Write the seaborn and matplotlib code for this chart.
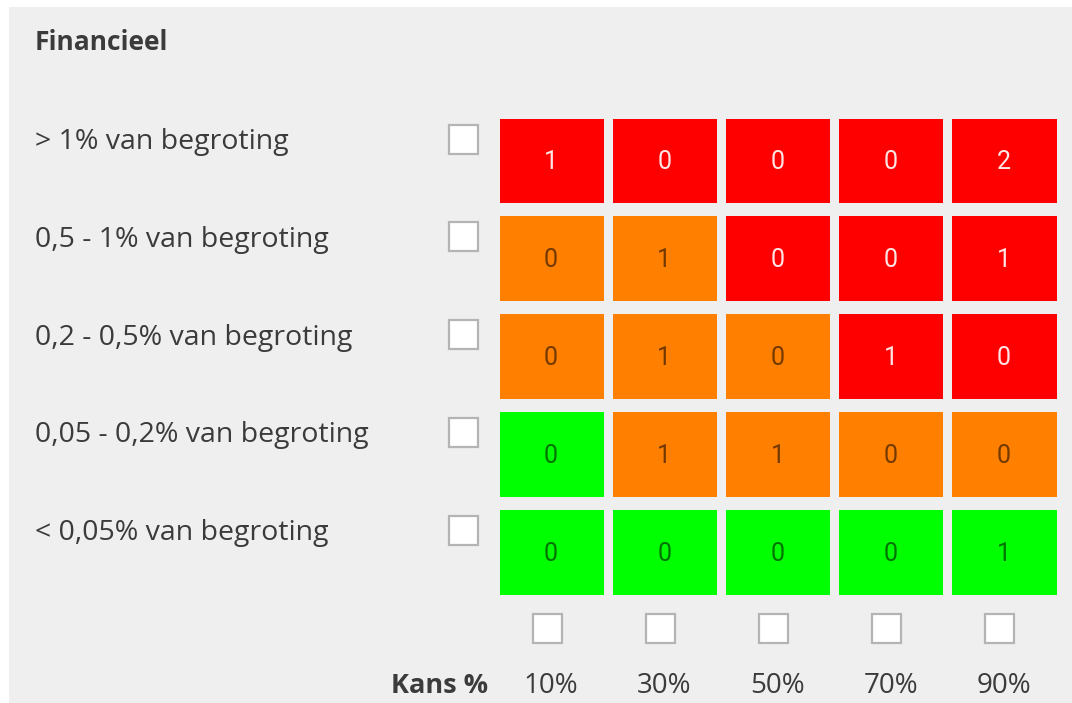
import numpy as np
import pandas as pd
import matplotlib
matplotlib.use("Agg")
import matplotlib.pyplot as plt
from matplotlib.colors import ListedColormap
from matplotlib.patches import Rectangle
import seaborn as sns

# data
rows = ["> 1% van begroting", "0,5 - 1% van begroting", "0,2 - 0,5% van begroting",
        "0,05 - 0,2% van begroting", "< 0,05% van begroting"]
cols = ["10%", "30%", "50%", "70%", "90%"]
counts = [[1, 0, 0, 0, 2],
          [0, 1, 0, 0, 1],
          [0, 1, 0, 1, 0],
          [0, 1, 1, 0, 0],
          [0, 0, 0, 0, 1]]
# risk level: 0 = laag (groen), 1 = midden (oranje), 2 = hoog (rood)
levels = [[2, 2, 2, 2, 2],
          [1, 1, 2, 2, 2],
          [1, 1, 1, 2, 2],
          [0, 1, 1, 1, 1],
          [0, 0, 0, 0, 0]]

bg = "#efefef"
txt = "#3b3b3b"
W, H = 1072, 703

sns.set_style("white")
plt.rcParams["font.family"] = ["Open Sans", "DejaVu Sans"]

fig = plt.figure(figsize=(W / 100, H / 100), dpi=100, facecolor="white")
fig.patches.append(Rectangle((9 / W, 0), 1, 1 - 7 / H, transform=fig.transFigure,
                             facecolor=bg, edgecolor="none", zorder=-10))

ax = fig.add_axes([494.5 / W, (H - 600.5) / H, 566 / W, 489 / H])
lev = pd.DataFrame(levels, index=rows, columns=cols)
cnt = pd.DataFrame(counts, index=rows, columns=cols)
sns.heatmap(lev, ax=ax, cmap=ListedColormap(["#00ff00", "#ff8000", "#ff0000"]),
            vmin=-0.5, vmax=2.5, cbar=False, annot=cnt, fmt="d",
            annot_kws={"fontsize": 18, "family": "Roboto"})

# colour the numbers like the original: light on red, dark on orange/green
for t, lv in zip(ax.texts, np.array(levels).ravel()):
    if lv == 2:
        t.set_color("#ffe4e4")
    else:
        t.set_color((0, 0, 0, 0.55))
    x, y = t.get_position()
    t.set_position((x, y + 0.02))

# gaps between tiles
for x in range(6):
    ax.axvline(x, color=bg, lw=9 * 0.72)
for y in range(6):
    ax.axhline(y, color=bg, lw=13 * 0.72)

ax.set_xticks([])
ax.set_yticks([])
ax.set_xlabel("")
ax.set_ylabel("")
for s in ax.spines.values():
    s.set_visible(False)

cw, rh = 566 / 5, 489 / 5
bw, bh = 29 / cw, 29 / rh

def checkbox(x, y):
    ax.add_patch(Rectangle((x, y), bw, bh, facecolor="white", edgecolor="#b4b4b4",
                           lw=1.6, clip_on=False, zorder=5))

# row labels and checkboxes
for i, name in enumerate(rows):
    yc = i + (139 - 111.5) / rh
    ax.text((35 - 494.5) / cw, yc + 3 / rh, name, ha="left", va="center",
            fontsize=20.5, color=txt)
    checkbox((449 - 494.5) / cw, yc - bh / 2)

# column checkboxes and labels
for j, name in enumerate(cols):
    checkbox(j + 0.5 - 4 / cw - bw / 2, (614 - 111.5) / rh)
    ax.text(j + 0.5, (686 - 111.5) / rh, name, ha="center", va="center",
            fontsize=20, color=txt)

ax.text((488 - 494.5) / cw, (686 - 111.5) / rh, "Kans %", ha="right", va="center",
        fontsize=19.5, fontweight="bold", color=txt)
fig.text(35 / W, 1 - 43 / H, "Financieel", ha="left", va="center",
         fontsize=19, fontweight="bold", color=txt)

fig.savefig("out.png", dpi=100, facecolor="white")
